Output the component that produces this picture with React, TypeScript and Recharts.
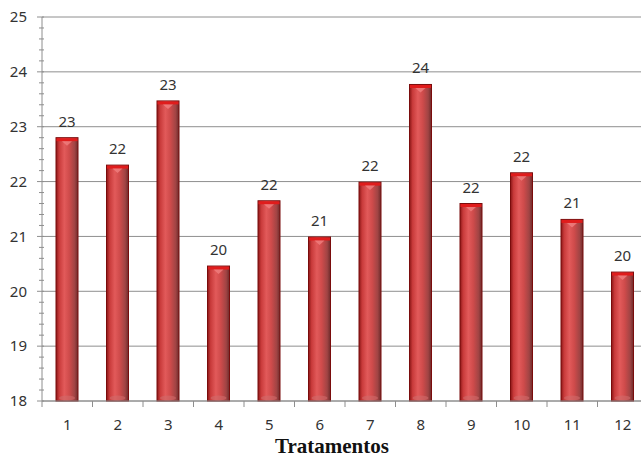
import { Bar, BarChart, CartesianGrid, LabelList, XAxis, YAxis } from 'recharts';

const tratamentos = ['1', '2', '3', '4', '5', '6', '7', '8', '9', '10', '11', '12'];
const medias = [22.8, 22.3, 23.47, 20.46, 21.65, 20.99, 21.99, 23.77, 21.6, 22.16, 21.31, 20.35];
const yMajor = [18, 19, 20, 21, 22, 23, 24, 25];
// five minor divisions per unit on the value axis
const yTicks = yMajor.flatMap((v, i) =>
  i === yMajor.length - 1 ? [v] : [0, 0.2, 0.4, 0.6, 0.8].map((d) => Math.round((v + d) * 10) / 10)
);

const data = tratamentos.map((t, i) => ({ tratamento: t, media: medias[i] }));

const FONT = '"Noto Sans", "Open Sans", sans-serif';
const GRID = '#8e8e8e';

function YTick(props: any) {
  const { x, y, payload } = props;
  const major = Number.isInteger(payload.value);
  return (
    <g>
      <line x1={major ? x - 5 : x - 3} x2={x + 2} y1={y} y2={y} stroke={GRID} />
      {major && (
        <text x={x - 15} y={y} dy="0.35em" textAnchor="end" fontSize={15} fontFamily={FONT} fill="#333">
          {payload.value}
        </text>
      )}
    </g>
  );
}

function XTick(props: any) {
  const { x, y, payload } = props;
  const half = payload.offset ?? 25.25;
  return (
    <g>
      <line x1={x - half} x2={x - half} y1={y} y2={y + 6} stroke={GRID} />
      <text x={x} y={y + 24} dy="0.35em" textAnchor="middle" fontSize={15} fontFamily={FONT} fill="#333">
        {payload.value}
      </text>
    </g>
  );
}

function CylinderBar(props: any) {
  const { x, y, width, height } = props;
  if (!height || height <= 0) return null;
  const cx = x + width / 2;
  return (
    <g>
      <rect x={x} y={y} width={width} height={height} fill="url(#barGrad)" stroke="#7a0c0c" strokeWidth={1} />
      <rect x={x + 0.5} y={y + 0.5} width={width - 1} height={3} fill="#e01c1c" />
      <path d={`M${cx - 5},${y + 3.5} L${cx + 5},${y + 3.5} L${cx},${y + 8} Z`} fill="#f08080" opacity={0.8} />
      <ellipse cx={cx} cy={y + height - 3} rx={width / 2 - 3} ry={2.5} fill="#d06a6a" opacity={0.6} />
    </g>
  );
}

export default function App() {
  return (
    <div style={{ position: 'absolute', left: 0, top: 0, width: 641, height: 459, overflow: 'hidden', background: '#fff' }}>
      <BarChart width={660} height={459} data={data} margin={{ top: 17, right: 12, left: 0, bottom: 0 }} barCategoryGap={0}>
        <defs>
          <linearGradient id="barGrad" x1="0" y1="0" x2="1" y2="0">
            <stop offset="0%" stopColor="#8a1616" />
            <stop offset="14%" stopColor="#c83a3a" />
            <stop offset="38%" stopColor="#e25a5a" />
            <stop offset="60%" stopColor="#cf4b4b" />
            <stop offset="85%" stopColor="#a04444" />
            <stop offset="100%" stopColor="#6e2a2a" />
          </linearGradient>
        </defs>
        <CartesianGrid vertical={false} horizontalValues={yMajor} stroke={GRID} strokeDasharray="0" />
        <XAxis
          dataKey="tratamento"
          height={58}
          axisLine={{ stroke: GRID }}
          tickLine={false}
          tickSize={0}
          tickMargin={0}
          tick={<XTick />}
          interval={0}
          label={{
            value: 'Tratamentos',
            position: 'insideBottom',
            offset: 6,
            dx: -13,
            style: { fontFamily: '"Liberation Serif", "Times New Roman", serif', fontWeight: 'bold', fontSize: 21, fill: '#111' },
          }}
        />
        <YAxis
          type="number"
          domain={[18, 25]}
          ticks={yTicks}
          interval={0}
          width={42}
          axisLine={{ stroke: GRID }}
          tickLine={false}
          tickSize={0}
          tickMargin={0}
          tick={<YTick />}
        />
        <Bar dataKey="media" barSize={22} shape={<CylinderBar />} isAnimationActive={false}>
          <LabelList
            dataKey="media"
            position="top"
            offset={11}
            formatter={(v: any) => Math.round(Number(v))}
            style={{ fontFamily: FONT, fontSize: 15, fill: '#333' }}
          />
        </Bar>
      </BarChart>
    </div>
  );
}
